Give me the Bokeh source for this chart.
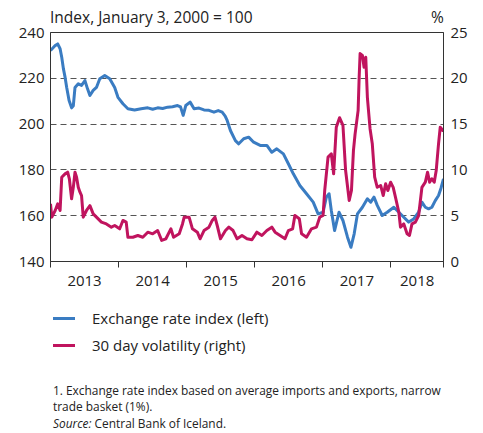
import pandas as pd
from bokeh.plotting import figure
from bokeh.models import Range1d, LinearAxis, FixedTicker, DatetimeTickFormatter, Div
from bokeh.layouts import column
from bokeh.embed import file_html
from bokeh.resources import INLINE

# ---------------- data ----------------
# Exchange rate index (left axis), time as decimal year
eri_t = [2013.000, 2013.069, 2013.106, 2013.141, 2013.165, 2013.190, 2013.214, 2013.238,
         2013.273, 2013.310, 2013.335, 2013.360, 2013.408, 2013.456, 2013.506, 2013.544,
         2013.579, 2013.627, 2013.675, 2013.724, 2013.797, 2013.870, 2013.943, 2013.991,
         2014.064, 2014.137, 2014.235, 2014.331, 2014.429, 2014.501, 2014.574, 2014.647,
         2014.720, 2014.793, 2014.866, 2014.910, 2014.949, 2014.987, 2015.051, 2015.109,
         2015.182, 2015.255, 2015.328, 2015.401, 2015.464, 2015.522, 2015.566, 2015.595,
         2015.643, 2015.716, 2015.765, 2015.838, 2015.911, 2015.984, 2016.080, 2016.178,
         2016.251, 2016.324, 2016.421, 2016.494, 2016.567, 2016.663, 2016.761, 2016.859,
         2016.931, 2017.004, 2017.052, 2017.092, 2017.125, 2017.173, 2017.238, 2017.296,
         2017.363, 2017.413, 2017.461, 2017.509, 2017.582, 2017.655, 2017.704, 2017.752,
         2017.800, 2017.873, 2017.946, 2018.044, 2018.117, 2018.190, 2018.262, 2018.335,
         2018.408, 2018.456, 2018.506, 2018.554, 2018.602, 2018.652, 2018.700, 2018.736,
         2018.773]
eri_v = [232.1, 234.3, 235.0, 232.9, 229.2, 224.1, 220.5, 216.0,
         210.3, 207.1, 208.0, 216.0, 217.6, 216.9, 219.0, 215.4,
         212.5, 214.7, 216.0, 219.8, 221.2, 219.8, 216.0, 211.7,
         208.9, 206.7, 206.2, 206.7, 207.1, 206.5, 207.1, 206.8,
         207.4, 207.6, 208.1, 207.5, 203.8, 208.1, 209.6, 206.7,
         207.0, 206.2, 206.0, 205.2, 205.9, 205.2, 203.5, 201.6,
         197.2, 192.8, 191.4, 193.6, 194.3, 192.1, 190.7, 190.7,
         187.7, 189.2, 187.0, 182.7, 178.3, 173.2, 169.6, 165.9,
         160.8, 161.5, 168.1, 169.6, 162.3, 153.5, 161.5, 157.9,
         150.6, 146.2, 152.1, 160.8, 163.7, 167.4, 165.9, 168.1,
         164.5, 160.1, 161.5, 163.7, 161.5, 159.3, 157.2, 158.6,
         161.5, 165.9, 163.7, 163.0, 163.7, 166.6, 168.8, 172.0,
         176.1]

# 30 day volatility (right axis, %), time as decimal year
vol_t = [2013.000, 2013.019, 2013.069, 2013.106, 2013.141, 2013.165, 2013.214, 2013.252,
         2013.277, 2013.310, 2013.335, 2013.360, 2013.383, 2013.408, 2013.433, 2013.456,
         2013.481, 2013.529, 2013.579, 2013.627, 2013.675, 2013.748, 2013.821, 2013.894,
         2013.943, 2014.016, 2014.064, 2014.112, 2014.137, 2014.210, 2014.283, 2014.356,
         2014.429, 2014.501, 2014.574, 2014.633, 2014.695, 2014.768, 2014.808, 2014.891,
         2014.939, 2014.964, 2015.036, 2015.085, 2015.157, 2015.197, 2015.255, 2015.328,
         2015.376, 2015.416, 2015.449, 2015.497, 2015.570, 2015.620, 2015.682, 2015.741,
         2015.813, 2015.886, 2015.959, 2016.032, 2016.105, 2016.178, 2016.251, 2016.299,
         2016.372, 2016.445, 2016.494, 2016.557, 2016.590, 2016.655, 2016.688, 2016.761,
         2016.834, 2016.907, 2016.955, 2017.004, 2017.028, 2017.077, 2017.125, 2017.159,
         2017.198, 2017.246, 2017.296, 2017.335, 2017.388, 2017.421, 2017.450, 2017.474,
         2017.519, 2017.534, 2017.548, 2017.582, 2017.606, 2017.631, 2017.655, 2017.694,
         2017.727, 2017.762, 2017.800, 2017.850, 2017.888, 2017.923, 2017.956, 2017.996,
         2018.034, 2018.068, 2018.117, 2018.141, 2018.190, 2018.238, 2018.273, 2018.310,
         2018.360, 2018.408, 2018.456, 2018.506, 2018.539, 2018.569, 2018.602, 2018.637,
         2018.666, 2018.700, 2018.725, 2018.763, 2018.773]
vol_v = [6.3, 4.84, 5.57, 6.3, 5.57, 9.2, 9.57, 9.75,
         9.03, 6.85, 8.1, 9.75, 9.2, 8.1, 7.57, 7.2,
         4.84, 5.57, 6.1, 5.2, 4.84, 4.3, 4.1, 3.75,
         3.93, 3.57, 4.48, 4.3, 2.65, 2.65, 2.84, 2.65,
         3.2, 3.02, 3.38, 2.3, 2.48, 3.57, 2.65, 3.02,
         4.1, 4.84, 4.84, 3.57, 3.2, 2.48, 3.38, 3.75,
         4.48, 4.84, 3.93, 2.48, 3.38, 3.75, 3.38, 2.48,
         2.84, 2.48, 2.37, 3.2, 2.84, 3.38, 3.75, 3.2,
         2.84, 2.48, 3.38, 3.57, 5.02, 4.66, 3.02, 2.65,
         3.57, 3.75, 4.84, 5.02, 7.75, 11.4, 11.76, 9.57,
         14.66, 15.7, 14.85, 9.93, 6.66, 7.75, 12.1, 13.9,
         16.5, 20.1, 22.7, 22.5, 21.2, 22.3, 17.9, 14.5,
         12.85, 9.2, 8.1, 8.3, 7.2, 8.48, 7.75, 8.66,
         8.1, 7.0, 5.38, 3.75, 4.1, 3.02, 2.84, 4.1,
         4.3, 5.02, 8.1, 8.66, 9.75, 8.66, 9.03, 8.66,
         9.93, 12.85, 14.66, 14.3, 14.5]

year_labels = ["2013", "2014", "2015", "2016", "2017", "2018"]
left_ticks = [140, 160, 180, 200, 220, 240]
right_ticks = [0, 5, 10, 15, 20, 25]
series_names = ["Exchange rate index (left)", "30 day volatility (right)"]

# ---------------- helpers ----------------
START = pd.Timestamp("2013-01-01")


def dec_to_ms(t):
    ts = START + pd.to_timedelta((t - 2013.0) * 365.25, unit="D")
    return ts.value / 1e6


eri_x = [dec_to_ms(t) for t in eri_t]
vol_x = [dec_to_ms(t) for t in vol_t]

X0 = dec_to_ms(2013.0)
X1 = dec_to_ms(2018.773)

BLUE = "#3a7cc2"
RED = "#c0145e"
FONT = "Open Sans"
W = 470
TOP_H = 22
MBT = 10

p = figure(width=W, height=MBT + 229 + 36, output_backend="svg", toolbar_location=None,
           x_axis_type="datetime",
           x_range=Range1d(X0, X1), y_range=Range1d(140, 240),
           min_border_left=50, min_border_right=W - 446, min_border_top=MBT,
           min_border_bottom=36, margin=(0, 0, 0, 0))
p.extra_y_ranges = {"vol": Range1d(0, 25)}

p.background_fill_color = "white"
p.border_fill_alpha = 0
p.outline_line_color = "#333333"
p.outline_line_width = 1

# grid
p.xgrid.visible = False
p.ygrid.ticker = FixedTicker(ticks=[160, 180, 200, 220])
p.ygrid.grid_line_color = "#555555"
p.ygrid.grid_line_dash = "6 4"
p.ygrid.grid_line_width = 1.2

# x axis: year labels centred in each year, ticks at the year boundaries
xa = p.xaxis[0]
year_bounds = [2013.0, 2014.0, 2015.0, 2016.0, 2017.0, 2018.0, 2018.773]
mids = [(year_bounds[i] + year_bounds[i + 1]) / 2 for i in range(len(year_labels))]
xa.ticker = FixedTicker(ticks=[dec_to_ms(m) for m in mids],
                        minor_ticks=[dec_to_ms(b) for b in year_bounds])
fmt = "%Y"
xa.formatter = DatetimeTickFormatter(microseconds=fmt, milliseconds=fmt, seconds=fmt,
                                     minsec=fmt, minutes=fmt, hourmin=fmt, hours=fmt,
                                     days=fmt, months=fmt, years=fmt)
xa.major_tick_out = 0
xa.major_tick_in = 0
xa.minor_tick_out = 6
xa.minor_tick_in = 0
xa.minor_tick_line_color = "#333333"
xa.axis_line_color = "#333333"
xa.major_label_text_font = FONT
xa.major_label_text_font_size = "15px"
xa.major_label_text_color = "#222222"
xa.major_label_standoff = 8

ya = p.yaxis[0]
ya.ticker = FixedTicker(ticks=left_ticks)
ya.major_tick_out = 0
ya.major_tick_in = 0
ya.minor_tick_out = 0
ya.minor_tick_in = 0
ya.axis_line_color = "#333333"
ya.major_label_text_font = FONT
ya.major_label_text_font_size = "15px"
ya.major_label_text_color = "#222222"
ya.major_label_standoff = 6

ra = LinearAxis(y_range_name="vol", ticker=FixedTicker(ticks=right_ticks))
ra.major_tick_out = 0
ra.major_tick_in = 0
ra.minor_tick_out = 0
ra.minor_tick_in = 0
ra.axis_line_color = "#333333"
ra.major_label_text_font = FONT
ra.major_label_text_font_size = "15px"
ra.major_label_text_color = "#222222"
ra.major_label_standoff = 7
p.add_layout(ra, "right")

p.line(eri_x, eri_v, line_color=BLUE, line_width=3, line_join="round")
p.line(vol_x, vol_v, line_color=RED, line_width=3, line_join="round",
       y_range_name="vol")

TXT = "font-family:'Open Sans';color:#222;white-space:nowrap;position:absolute;"

top_div = Div(width=W, height=TOP_H, margin=(0, 0, 0, 0), text=(
    "<div style=\"position:relative;width:%dpx;height:%dpx;\">"
    "<span style=\"%sleft:50px;top:7px;font-size:15.5px;line-height:20px\">"
    "Index, January 3, 2000 = 100</span>"
    "<span style=\"%sleft:431px;top:7px;font-size:15.5px;line-height:20px\">%%</span>"
    "</div>" % (W, TOP_H, TXT, TXT)))

legend_html = ""
for i, (name, col) in enumerate(zip(series_names, [BLUE, RED])):
    cy = 21 + 27 * i
    legend_html += (
        "<span style=\"position:absolute;left:53px;top:%.1fpx;width:22px;height:3px;"
        "background:%s\"></span>" % (cy - 1.5, col))
    legend_html += (
        "<span style=\"%sleft:92px;top:%dpx;font-size:15px;line-height:20px\">%s</span>"
        % (TXT, cy - 10, name))

notes = ["1. Exchange rate index based on average imports and exports, narrow",
         "trade basket (1%).",
         "<i>Source:</i> Central Bank of Iceland."]
notes_html = ""
for cy, n in zip([93, 109, 126], notes):
    notes_html += ("<span style=\"%sleft:53px;top:%dpx;font-size:11.9px;line-height:16px\">%s</span>"
                   % (TXT, cy - 8, n))

bottom_div = Div(width=W, height=134, margin=(0, 0, 0, 0), text=(
    "<div style=\"position:relative;width:%dpx;height:134px;\">%s%s</div>"
    % (W, legend_html, notes_html)))

layout = column(top_div, p, bottom_div, spacing=0)

open("out.html", "w").write(file_html(layout, INLINE))
